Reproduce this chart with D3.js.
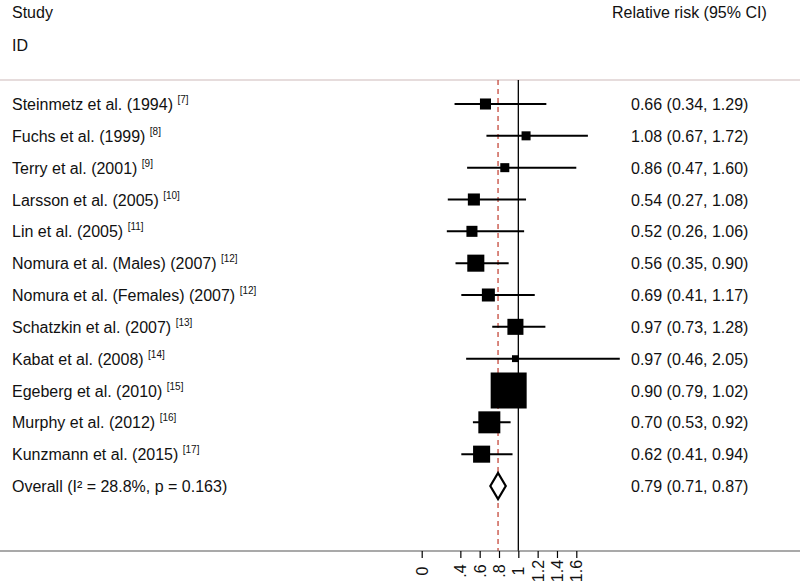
<!DOCTYPE html>
<html><head><meta charset="utf-8">
<script src="https://cdn.jsdelivr.net/npm/d3@7"></script>
<style>body{margin:0;background:#fff}svg{display:block}text{font-family:"Liberation Sans",Arial,sans-serif;fill:#111}</style>
</head><body><svg id="c" width="800" height="587"></svg>
<script>
const studies = ["Steinmetz et al. (1994)","Fuchs et al. (1999)","Terry et al. (2001)","Larsson et al. (2005)","Lin et al. (2005)","Nomura et al. (Males) (2007)","Nomura et al. (Females) (2007)","Schatzkin et al. (2007)","Kabat et al. (2008)","Egeberg et al. (2010)","Murphy et al. (2012)","Kunzmann et al. (2015)"];
const refs = ["[7]","[8]","[9]","[10]","[11]","[12]","[12]","[13]","[14]","[15]","[16]","[17]"];
const rr =    [0.66,1.08,0.86,0.54,0.52,0.56,0.69,0.97,0.97,0.90,0.70,0.62];
const lower = [0.34,0.67,0.47,0.27,0.26,0.35,0.41,0.73,0.46,0.79,0.53,0.41];
const upper = [1.29,1.72,1.60,1.08,1.06,0.90,1.17,1.28,2.05,1.02,0.92,0.94];
const weights = [3.6,2.4,2.4,4.3,3.6,8.6,5.0,7.6,1.4,38.3,14.3,8.6];
const overall = {label:"Overall (I² = 28.8%, p = 0.163)", rr:0.79, lower:0.71, upper:0.87};
const tickValues = [0,0.4,0.6,0.8,1,1.2,1.4,1.6];
const tickLabels = ["0",".4",".6",".8","1","1.2","1.4","1.6"];

const svg = d3.select("#c");
const rows = studies.concat([overall.label]);
const x = d3.scaleLinear().domain([0,1.6]).range([421.7,576.3]);
const y = d3.scalePoint().domain(rows).range([104,486]);
const size = d3.scaleSqrt().domain([0,38.3]).range([0,36]);
const topY = 80, axisY = 551;
const fmt = d3.format(".2f");

// header
svg.append("text").attr("x",12).attr("y",18).attr("font-size",16).text("Study");
svg.append("text").attr("x",12).attr("y",51).attr("font-size",16).text("ID");
svg.append("text").attr("x",612).attr("y",18).attr("font-size",16).text("Relative risk (95% CI)");
svg.append("line").attr("x1",0).attr("x2",800).attr("y1",topY).attr("y2",topY).attr("stroke","#cdb9b9").attr("stroke-width",1.2);

// reference lines
svg.append("line").attr("x1",x(1)).attr("x2",x(1)).attr("y1",topY).attr("y2",axisY).attr("stroke","#000").attr("stroke-width",1.3);
svg.append("line").attr("x1",x(overall.rr)).attr("x2",x(overall.rr)).attr("y1",topY).attr("y2",axisY).attr("stroke","#c0392b").attr("stroke-width",1.2).attr("stroke-dasharray","5,4");

// study rows
const g = svg.append("g");
studies.forEach((s,i)=>{
  const cy = y(s);
  g.append("line").attr("x1",x(lower[i])).attr("x2",x(upper[i])).attr("y1",cy).attr("y2",cy).attr("stroke","#000").attr("stroke-width",2);
  const w = size(weights[i]);
  g.append("rect").attr("x",x(rr[i])-w/2).attr("y",cy-w/2).attr("width",w).attr("height",w).attr("fill","#000");
  const t = g.append("text").attr("x",12).attr("y",cy+6).attr("font-size",16);
  t.append("tspan").text(s+" ");
  t.append("tspan").attr("font-size",10).attr("dy",-7).text(refs[i]);
  g.append("text").attr("x",631).attr("y",cy+6).attr("font-size",16).text(`${fmt(rr[i])} (${fmt(lower[i])}, ${fmt(upper[i])})`);
});

// overall
const oy = y(overall.label);
const dh = 13;
svg.append("path").attr("d",`M${x(overall.lower)},${oy} L${x(overall.rr)},${oy-dh} L${x(overall.upper)},${oy} L${x(overall.rr)},${oy+dh} Z`).attr("fill","#fff").attr("stroke","#000").attr("stroke-width",2.2);
svg.append("text").attr("x",12).attr("y",oy+6).attr("font-size",16).text(overall.label);
svg.append("text").attr("x",631).attr("y",oy+6).attr("font-size",16).text(`${fmt(overall.rr)} (${fmt(overall.lower)}, ${fmt(overall.upper)})`);

// axis
svg.append("line").attr("x1",0).attr("x2",800).attr("y1",axisY).attr("y2",axisY).attr("stroke","#555").attr("stroke-width",1.2);
const ax = svg.append("g").attr("transform",`translate(0,${axisY})`)
  .call(d3.axisBottom(x).tickValues(tickValues).tickSize(7).tickFormat((d,i)=>tickLabels[i]));
ax.select(".domain").remove();
ax.selectAll(".tick line").attr("stroke","#000").attr("stroke-width",1.2);
ax.selectAll(".tick text").attr("font-size",16).attr("font-family",'"Liberation Sans",Arial,sans-serif').attr("fill","#111")
  .attr("y",null).attr("dy","0.35em").attr("text-anchor","middle").attr("transform","translate(0,20) rotate(-90)");
</script></body></html>
